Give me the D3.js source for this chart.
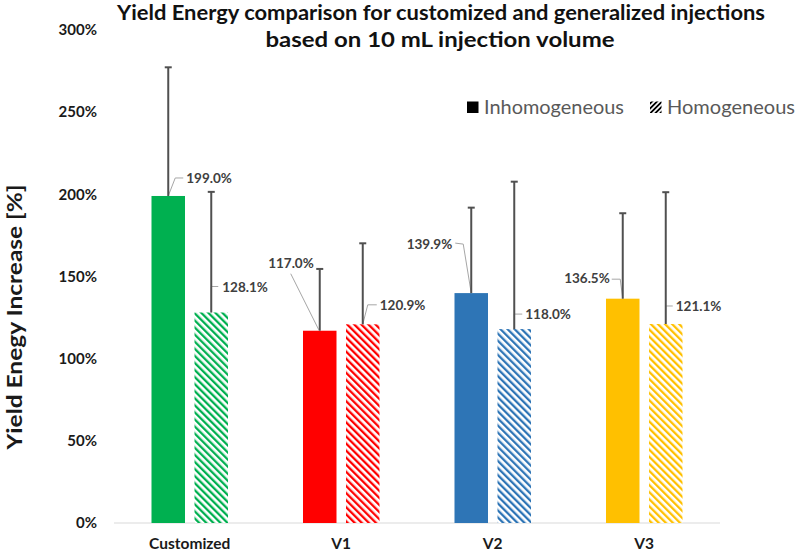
<!DOCTYPE html>
<html lang="en">
<head>
<meta charset="UTF-8">
<title>Yield Energy comparison</title>
<script src="https://cdn.jsdelivr.net/npm/d3@7"></script>
<style>
  body { margin: 0; background: #fff; }
  text { font-family: Lato, "Open Sans", sans-serif; }
</style>
</head>
<body>
<div id="chart"></div>
<script>
// data
var categories = ["Customized", "V1", "V2", "V3"];
var series = ["Inhomogeneous", "Homogeneous"];
var colors = ["#00b050", "#ff0000", "#2e75b6", "#ffc000"];
var inhomValues = [199.0, 117.0, 139.9, 136.5];
var homValues = [128.1, 120.9, 118.0, 121.1];
var inhomErrors = [78.3, 37.6, 52.0, 52.0];
var homErrors = [73.4, 49.3, 89.7, 80.2];
var yTicks = [0, 50, 100, 150, 200, 250, 300];

// label layout, relative to the top centre of each bar
var labelLayout = [
  // inhomogeneous
  [{tx: 18, ty: -18, anchor: "start", line: [[0,0],[7,-18],[15,-18]]},
   {tx: -6, ty: -67, anchor: "end",   line: [[-1,-1],[-29,-57]]},
   {tx: -19, ty: -49, anchor: "end",  line: [[0,0],[-8,-49],[-16,-50]]},
   {tx: -13, ty: -20, anchor: "end",  line: [[0,0],[-2.5,-19.5],[-11,-19.5]]}],
  // homogeneous
  [{tx: 11, ty: -25, anchor: "start", line: [[0,0],[0,-26],[7,-26]]},
   {tx: 17, ty: -19, anchor: "start", line: [[0,0],[5,-19.5],[14,-19.5]]},
   {tx: 11, ty: -15, anchor: "start", line: [[0,0],[0,-15],[8,-15]]},
   {tx: 10, ty: -18, anchor: "start", line: [[0,0],[0,-18],[7,-18]]}]
];

var w = 800, h = 554;
var svg = d3.select("#chart").append("svg")
    .attr("width", w)
    .attr("height", h);

var defs = svg.append("defs");
colors.forEach(function(c, i) {
  var p = defs.append("pattern")
      .attr("id", "hatch" + i)
      .attr("patternUnits", "userSpaceOnUse")
      .attr("width", 5)
      .attr("height", 5)
      .attr("patternTransform", "rotate(-45)");
  p.append("rect").attr("width", 5).attr("height", 5).attr("fill", "#fff");
  p.append("rect").attr("width", 2.3).attr("height", 5).attr("fill", c);
});
var lp = defs.append("pattern")
    .attr("id", "hatchLegend")
    .attr("patternUnits", "userSpaceOnUse")
    .attr("width", 3.5)
    .attr("height", 3.5)
    .attr("patternTransform", "rotate(45)");
lp.append("rect").attr("width", 3.5).attr("height", 3.5).attr("fill", "#fff");
lp.append("rect").attr("width", 1.8).attr("height", 3.5).attr("fill", "#000");

var x = d3.scaleBand()
    .domain(categories)
    .range([114, 720])
    .paddingInner(0.495)
    .paddingOuter(0.2475);

var xSub = d3.scaleBand()
    .domain(series)
    .range([0, x.bandwidth()])
    .paddingInner(0.221);

var y = d3.scaleLinear()
    .domain([0, 300])
    .range([523, 30]);

// title
var title = svg.append("g").attr("font-weight", "bold").attr("fill", "#111").attr("text-anchor", "middle");
title.append("text").attr("x", 441).attr("y", 20).attr("font-size", 20)
    .attr("textLength", 648).attr("lengthAdjust", "spacingAndGlyphs")
    .text("Yield Energy comparison for customized and generalized injections");
title.append("text").attr("x", 440).attr("y", 47).attr("font-size", 20)
    .attr("textLength", 349).attr("lengthAdjust", "spacingAndGlyphs")
    .text("based on 10 mL injection volume");

// y axis labels
svg.append("g").selectAll("text")
  .data(yTicks)
  .enter().append("text")
    .attr("x", 97)
    .attr("y", function(d) { return y(d); })
    .attr("dy", "0.35em")
    .attr("text-anchor", "end")
    .attr("font-size", 15)
    .attr("font-weight", "bold")
    .attr("fill", "#1a1a1a")
    .text(function(d) { return d + "%"; });

svg.append("text")
    .attr("transform", "translate(22,317) rotate(-90)")
    .attr("text-anchor", "middle")
    .attr("font-size", 20)
    .attr("font-weight", "bold")
    .attr("fill", "#1a1a1a")
    .attr("textLength", 265)
    .attr("lengthAdjust", "spacingAndGlyphs")
    .text("Yield Enegy Increase [%]");

// baseline
svg.append("line")
    .attr("x1", 114).attr("x2", 720)
    .attr("y1", y(0)).attr("y2", y(0))
    .attr("stroke", "#d9d9d9")
    .attr("stroke-width", 1);

// x labels
svg.append("g").selectAll("text")
  .data(categories)
  .enter().append("text")
    .attr("x", function(d) { return x(d) + x.bandwidth() / 2; })
    .attr("y", 549)
    .attr("text-anchor", "middle")
    .attr("font-size", 15.5)
    .attr("font-weight", "bold")
    .attr("fill", "#1a1a1a")
    .text(function(d) { return d; });

// bars
var rows = [];
categories.forEach(function(c, i) {
  rows.push({cat: c, s: 0, i: i, val: inhomValues[i], err: inhomErrors[i]});
  rows.push({cat: c, s: 1, i: i, val: homValues[i], err: homErrors[i]});
});

var cx = function(d) { return x(d.cat) + xSub(series[d.s]) + xSub.bandwidth() / 2; };

svg.append("g").selectAll("rect")
  .data(rows)
  .enter().append("rect")
    .attr("x", function(d) { return x(d.cat) + xSub(series[d.s]); })
    .attr("y", function(d) { return y(d.val); })
    .attr("width", xSub.bandwidth())
    .attr("height", function(d) { return y(0) - y(d.val); })
    .attr("fill", function(d) { return d.s === 0 ? colors[d.i] : "url(#hatch" + d.i + ")"; });

// leader lines
var lineGen = d3.line();
svg.append("g").selectAll("path")
  .data(rows)
  .enter().append("path")
    .attr("d", function(d) {
      var L = labelLayout[d.s][d.i];
      var bx = cx(d), by = y(d.val);
      return lineGen(L.line.map(function(p) { return [bx + p[0], by + p[1]]; }));
    })
    .attr("fill", "none")
    .attr("stroke", "#a6a6a6")
    .attr("stroke-width", 1);

// error bars (plus side only)
var eb = svg.append("g").attr("stroke", "#505050");
eb.selectAll("line.stem")
  .data(rows)
  .enter().append("line")
    .attr("class", "stem")
    .attr("x1", cx).attr("x2", cx)
    .attr("y1", function(d) { return y(d.val); })
    .attr("y2", function(d) { return y(d.val + d.err); })
    .attr("stroke-width", 2);
eb.selectAll("line.cap")
  .data(rows)
  .enter().append("line")
    .attr("class", "cap")
    .attr("x1", function(d) { return cx(d) - 3.5; })
    .attr("x2", function(d) { return cx(d) + 3.5; })
    .attr("y1", function(d) { return y(d.val + d.err); })
    .attr("y2", function(d) { return y(d.val + d.err); })
    .attr("stroke-width", 2);

// value labels
svg.append("g").selectAll("text")
  .data(rows)
  .enter().append("text")
    .attr("x", function(d) { return cx(d) + labelLayout[d.s][d.i].tx; })
    .attr("y", function(d) { return y(d.val) + labelLayout[d.s][d.i].ty; })
    .attr("dy", "0.35em")
    .attr("text-anchor", function(d) { return labelLayout[d.s][d.i].anchor; })
    .attr("font-size", 13.5)
    .attr("font-weight", "bold")
    .attr("fill", "#404040")
    .text(function(d) { return d.val.toFixed(1) + "%"; });

// legend
var legend = svg.append("g");
legend.append("rect").attr("x", 467).attr("y", 101.5).attr("width", 11.5).attr("height", 11.5).attr("fill", "#000");
legend.append("text").attr("x", 484).attr("y", 107.5).attr("dy", "0.35em")
    .attr("font-size", 19).attr("fill", "#595959")
    .attr("textLength", 140).attr("lengthAdjust", "spacingAndGlyphs")
    .text(series[0]);
legend.append("rect").attr("x", 650).attr("y", 101.5).attr("width", 11.5).attr("height", 11.5).attr("fill", "url(#hatchLegend)");
legend.append("text").attr("x", 667).attr("y", 107.5).attr("dy", "0.35em")
    .attr("font-size", 19).attr("fill", "#595959")
    .attr("textLength", 128).attr("lengthAdjust", "spacingAndGlyphs")
    .text(series[1]);
</script>
</body>
</html>
